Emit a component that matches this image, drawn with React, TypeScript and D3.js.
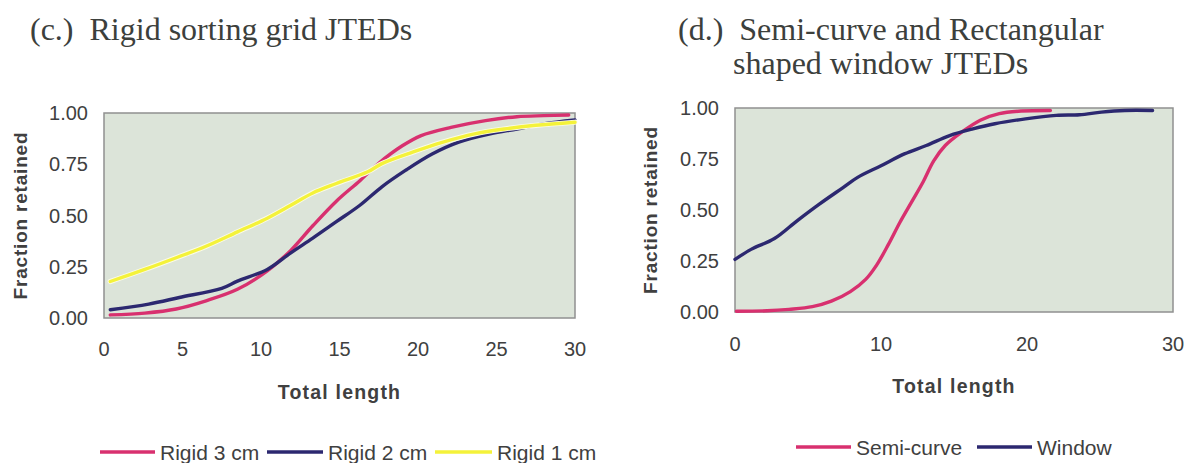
import React from "react";
import * as d3 from "d3";

// ---------- data ----------
const rigid3X = [0.4, 2.6, 4.6, 6.5, 8.5, 10.4, 11.9, 13.3, 14.8, 16.3, 17.5, 19.0, 20.2, 22.1, 24.3, 26.3, 28.0, 29.6];
const rigid3Y = [0.015, 0.024, 0.044, 0.084, 0.14, 0.23, 0.33, 0.45, 0.57, 0.67, 0.755, 0.84, 0.89, 0.93, 0.963, 0.982, 0.987, 0.99];

const rigid2X = [0.4, 2.85, 4.8, 7.5, 8.5, 10.4, 11.9, 13.3, 14.8, 16.3, 17.7, 19.2, 20.9, 22.6, 24.6, 26.3, 28.0, 30.0];
const rigid2Y = [0.04, 0.068, 0.1, 0.145, 0.18, 0.237, 0.318, 0.39, 0.47, 0.55, 0.64, 0.72, 0.8, 0.858, 0.898, 0.922, 0.947, 0.966];

const rigid1X = [0.4, 2.6, 4.6, 6.5, 8.5, 10.4, 11.9, 13.3, 14.8, 16.8, 17.7, 19.7, 21.6, 23.6, 25.5, 27.5, 30.0];
const rigid1Y = [0.178, 0.237, 0.294, 0.35, 0.42, 0.487, 0.55, 0.61, 0.656, 0.713, 0.753, 0.81, 0.858, 0.898, 0.922, 0.94, 0.955];

const semiX = [0.1, 2.2, 3.7, 5.3, 6.6, 7.9, 8.95, 9.7, 10.5, 11.3, 12.1, 12.9, 13.6, 14.4, 15.5, 16.8, 18.1, 19.6, 21.6];
const semiY = [0.004, 0.006, 0.013, 0.026, 0.053, 0.1, 0.16, 0.23, 0.33, 0.44, 0.54, 0.64, 0.74, 0.816, 0.88, 0.94, 0.972, 0.985, 0.988];

const windowX = [0.0, 1.1, 2.7, 4.25, 5.8, 7.4, 8.4, 10.0, 11.6, 13.1, 14.7, 16.3, 17.8, 19.9, 22.0, 23.6, 25.1, 26.7, 28.6];
const windowY = [0.258, 0.307, 0.36, 0.447, 0.53, 0.61, 0.66, 0.717, 0.775, 0.816, 0.865, 0.898, 0.923, 0.947, 0.964, 0.967, 0.98, 0.988, 0.988];

const yTicks = [0, 0.25, 0.5, 0.75, 1];
const xTicksC = [0, 5, 10, 15, 20, 25, 30];
const xTicksD = [0, 10, 20, 30];

const namesC = ["Rigid 3 cm", "Rigid 2 cm", "Rigid 1 cm"];
const namesD = ["Semi-curve", "Window"];

// ---------- style ----------
const PINK = "#d8306f";
const NAVY = "#2c2870";
const YELLOW = "#f4f23a";
const BG = "#dce4d9";
const BORDER = "#909090";
const TXT = "#404040";
const SANS = "'Liberation Sans', Arial, sans-serif";
const SERIF = "'Liberation Serif', 'Times New Roman', serif";

type Series = { name: string; xs: number[]; ys: number[]; color: string };
type LegendItem = { name: string; color: string; x0: number; x1: number; tx: number };

function Panel(props: {
  x0: number; x1: number; y0: number; y1: number;
  xTicks: number[]; series: Series[];
  xTickY: number; titleY: number; yLabelX: number;
  legendY: number; legend: LegendItem[];
}) {
  const { x0, x1, y0, y1, xTicks, series } = props;
  const x = d3.scaleLinear().domain([0, 30]).range([x0, x1]);
  const y = d3.scaleLinear().domain([0, 1]).range([y1, y0]);
  const line = d3
    .line<[number, number]>()
    .x((d) => x(d[0]))
    .y((d) => y(d[1]))
    .curve(d3.curveCatmullRom.alpha(0.5));
  const fmt = d3.format(".2f");
  return (
    <g>
      <rect x={x0} y={y0} width={x1 - x0} height={y1 - y0} fill={BG} stroke={BORDER} strokeWidth={1.5} />
      {series.map((s) => {
        const pts = s.xs.map((v, i) => [v, s.ys[i]] as [number, number]);
        return (
          <g key={s.name}>
            {s.color === YELLOW && (
              <path d={line(pts) || ""} fill="none" stroke="#fbfbe6" strokeWidth={5.2} strokeLinecap="round" />
            )}
            <path d={line(pts) || ""} fill="none" stroke={s.color} strokeWidth={3.4} strokeLinecap="round" />
          </g>
        );
      })}
      {yTicks.map((t) => (
        <text key={t} x={x0 - 16} y={y(t)} textAnchor="end" dominantBaseline="central"
          fontFamily={SANS} fontSize={20} fill={TXT}>{fmt(t)}</text>
      ))}
      {xTicks.map((t) => (
        <text key={t} x={x(t)} y={props.xTickY} textAnchor="middle" dominantBaseline="central"
          fontFamily={SANS} fontSize={20} fill={TXT}>{t}</text>
      ))}
      <text x={(x0 + x1) / 2} y={props.titleY} textAnchor="middle" dominantBaseline="central"
        fontFamily={SANS} fontSize={19.5} fontWeight="bold" letterSpacing={1.2} fill={TXT}>Total length</text>
      <text transform={`translate(${props.yLabelX},${(y0 + y1) / 2}) rotate(-90)`} textAnchor="middle"
        dominantBaseline="central" fontFamily={SANS} fontSize={19} fontWeight="bold" letterSpacing={0.8}
        fill={TXT}>Fraction retained</text>
      {props.legend.map((l) => (
        <g key={l.name}>
          <line x1={l.x0} x2={l.x1} y1={props.legendY} y2={props.legendY} stroke={l.color} strokeWidth={3.4} />
          <text x={l.tx} y={props.legendY} dominantBaseline="central" fontFamily={SANS} fontSize={21}
            fill={TXT}>{l.name}</text>
        </g>
      ))}
    </g>
  );
}

export default function App() {
  const seriesC: Series[] = [
    { name: namesC[0], xs: rigid3X, ys: rigid3Y, color: PINK },
    { name: namesC[1], xs: rigid2X, ys: rigid2Y, color: NAVY },
    { name: namesC[2], xs: rigid1X, ys: rigid1Y, color: YELLOW },
  ];
  const seriesD: Series[] = [
    { name: namesD[0], xs: semiX, ys: semiY, color: PINK },
    { name: namesD[1], xs: windowX, ys: windowY, color: NAVY },
  ];
  const legendC: LegendItem[] = [
    { name: namesC[0], color: PINK, x0: 100, x1: 155, tx: 160 },
    { name: namesC[1], color: NAVY, x0: 267, x1: 323, tx: 328 },
    { name: namesC[2], color: YELLOW, x0: 435, x1: 492, tx: 497 },
  ];
  const legendD: LegendItem[] = [
    { name: namesD[0], color: PINK, x0: 796, x1: 851, tx: 856 },
    { name: namesD[1], color: NAVY, x0: 977, x1: 1032, tx: 1037 },
  ];
  return (
    <svg width={1197} height={463} style={{ position: "absolute", left: 0, top: 0, background: "#fff" }}>
      <rect width={1197} height={463} fill="#fff" />
      <text x={30} y={40} fontFamily={SERIF} fontSize={32} fill="#3c403c" style={{ whiteSpace: "pre" }}>
        {"(c.)  Rigid sorting grid JTEDs"}
      </text>
      <text x={678} y={40} fontFamily={SERIF} fontSize={32} fill="#3c403c" style={{ whiteSpace: "pre" }}>
        {"(d.)  Semi-curve and Rectangular"}
      </text>
      <text x={733} y={74} fontFamily={SERIF} fontSize={32} fill="#3c403c">shaped window JTEDs</text>
      <Panel x0={104} x1={575} y0={113} y1={318} xTicks={xTicksC} series={seriesC}
        xTickY={349} titleY={392} yLabelX={20} legendY={452} legend={legendC} />
      <Panel x0={735} x1={1173} y0={108} y1={312} xTicks={xTicksD} series={seriesD}
        xTickY={344} titleY={386} yLabelX={650} legendY={447} legend={legendD} />
    </svg>
  );
}
